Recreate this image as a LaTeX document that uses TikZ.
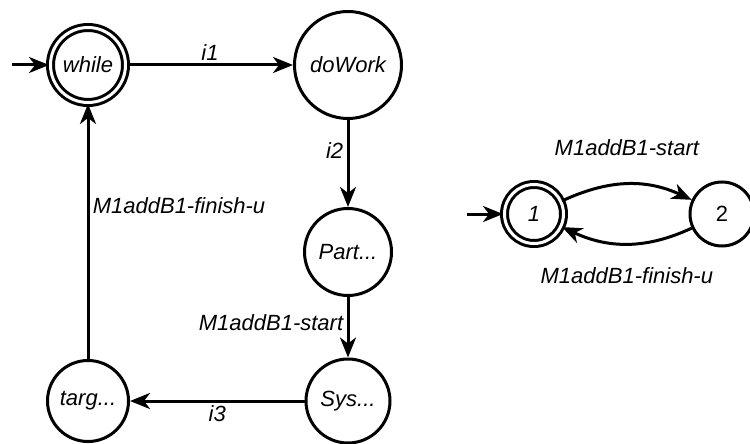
\documentclass[tikz,border=0pt]{standalone}
\usepackage{fontspec}
\setmainfont{Liberation Sans}
\usetikzlibrary{arrows.meta}
\usetikzlibrary{positioning}
\newcommand{\stateFont}{\fontsize{22}{26}\selectfont\itshape}
\tikzset{
    state/.style={circle,draw,line width=3pt,inner sep=0pt},
    accept/.style={state,double,double distance=3pt,line width=3pt},
    trans/.style={line width=3pt,-{Stealth[length=20pt,width=16pt,inset=6pt]}},
  }
\begin{document}
\begin{tikzpicture}[x=1pt,y=-1pt,font=\stateFont]
  \useasboundingbox (0,0) rectangle (750,444);
  % main loop
  \node[accept, minimum size=75pt] (while) at (88,65) {while};
  \node[state, minimum size=107pt] (doWork) [right of=while, node distance=260pt] {doWork};
  \node[state, minimum size=87pt] (part) [below of=doWork, node distance=187pt] {Part...};
  \node[state, minimum size=84pt] (sys) [below of=part, node distance=149pt] {Sys...};
  \node[state, minimum size=81pt] (targ) [left of=sys, node distance=260pt] {targ...};
  \coordinate (init) at (12,65);

  \draw[trans] (init) -- (while);
  \draw[trans] (while) -- node[above] {i1} (doWork);
  \draw[trans] (doWork) -- node[left,pos=0.35] {i2} (part);
  \draw[trans] (part) -- node[left,pos=0.42] {M1addB1-start} (sys);
  \draw[trans] (sys) -- node[below] {i3} (targ);
  \draw[trans] (targ) -- node[right,pos=0.6] {M1addB1-finish-u} (while);

  % small automaton
  \node[accept, minimum size=59pt] (one) at (534,214) {1};
  \node[state, minimum size=64pt, font=\stateFont\upshape] (two) [right of=one, node distance=188pt] {2};
  \coordinate (init2) at (467,214);

  \draw[trans] (init2) -- (one);
  \draw[trans] (one) to[out=25,in=155] node[above=24pt] {M1addB1-start} (two);
  \draw[trans] (two) to[out=-155,in=-25] node[below=19pt] {M1addB1-finish-u} (one);
\end{tikzpicture}
\end{document}
